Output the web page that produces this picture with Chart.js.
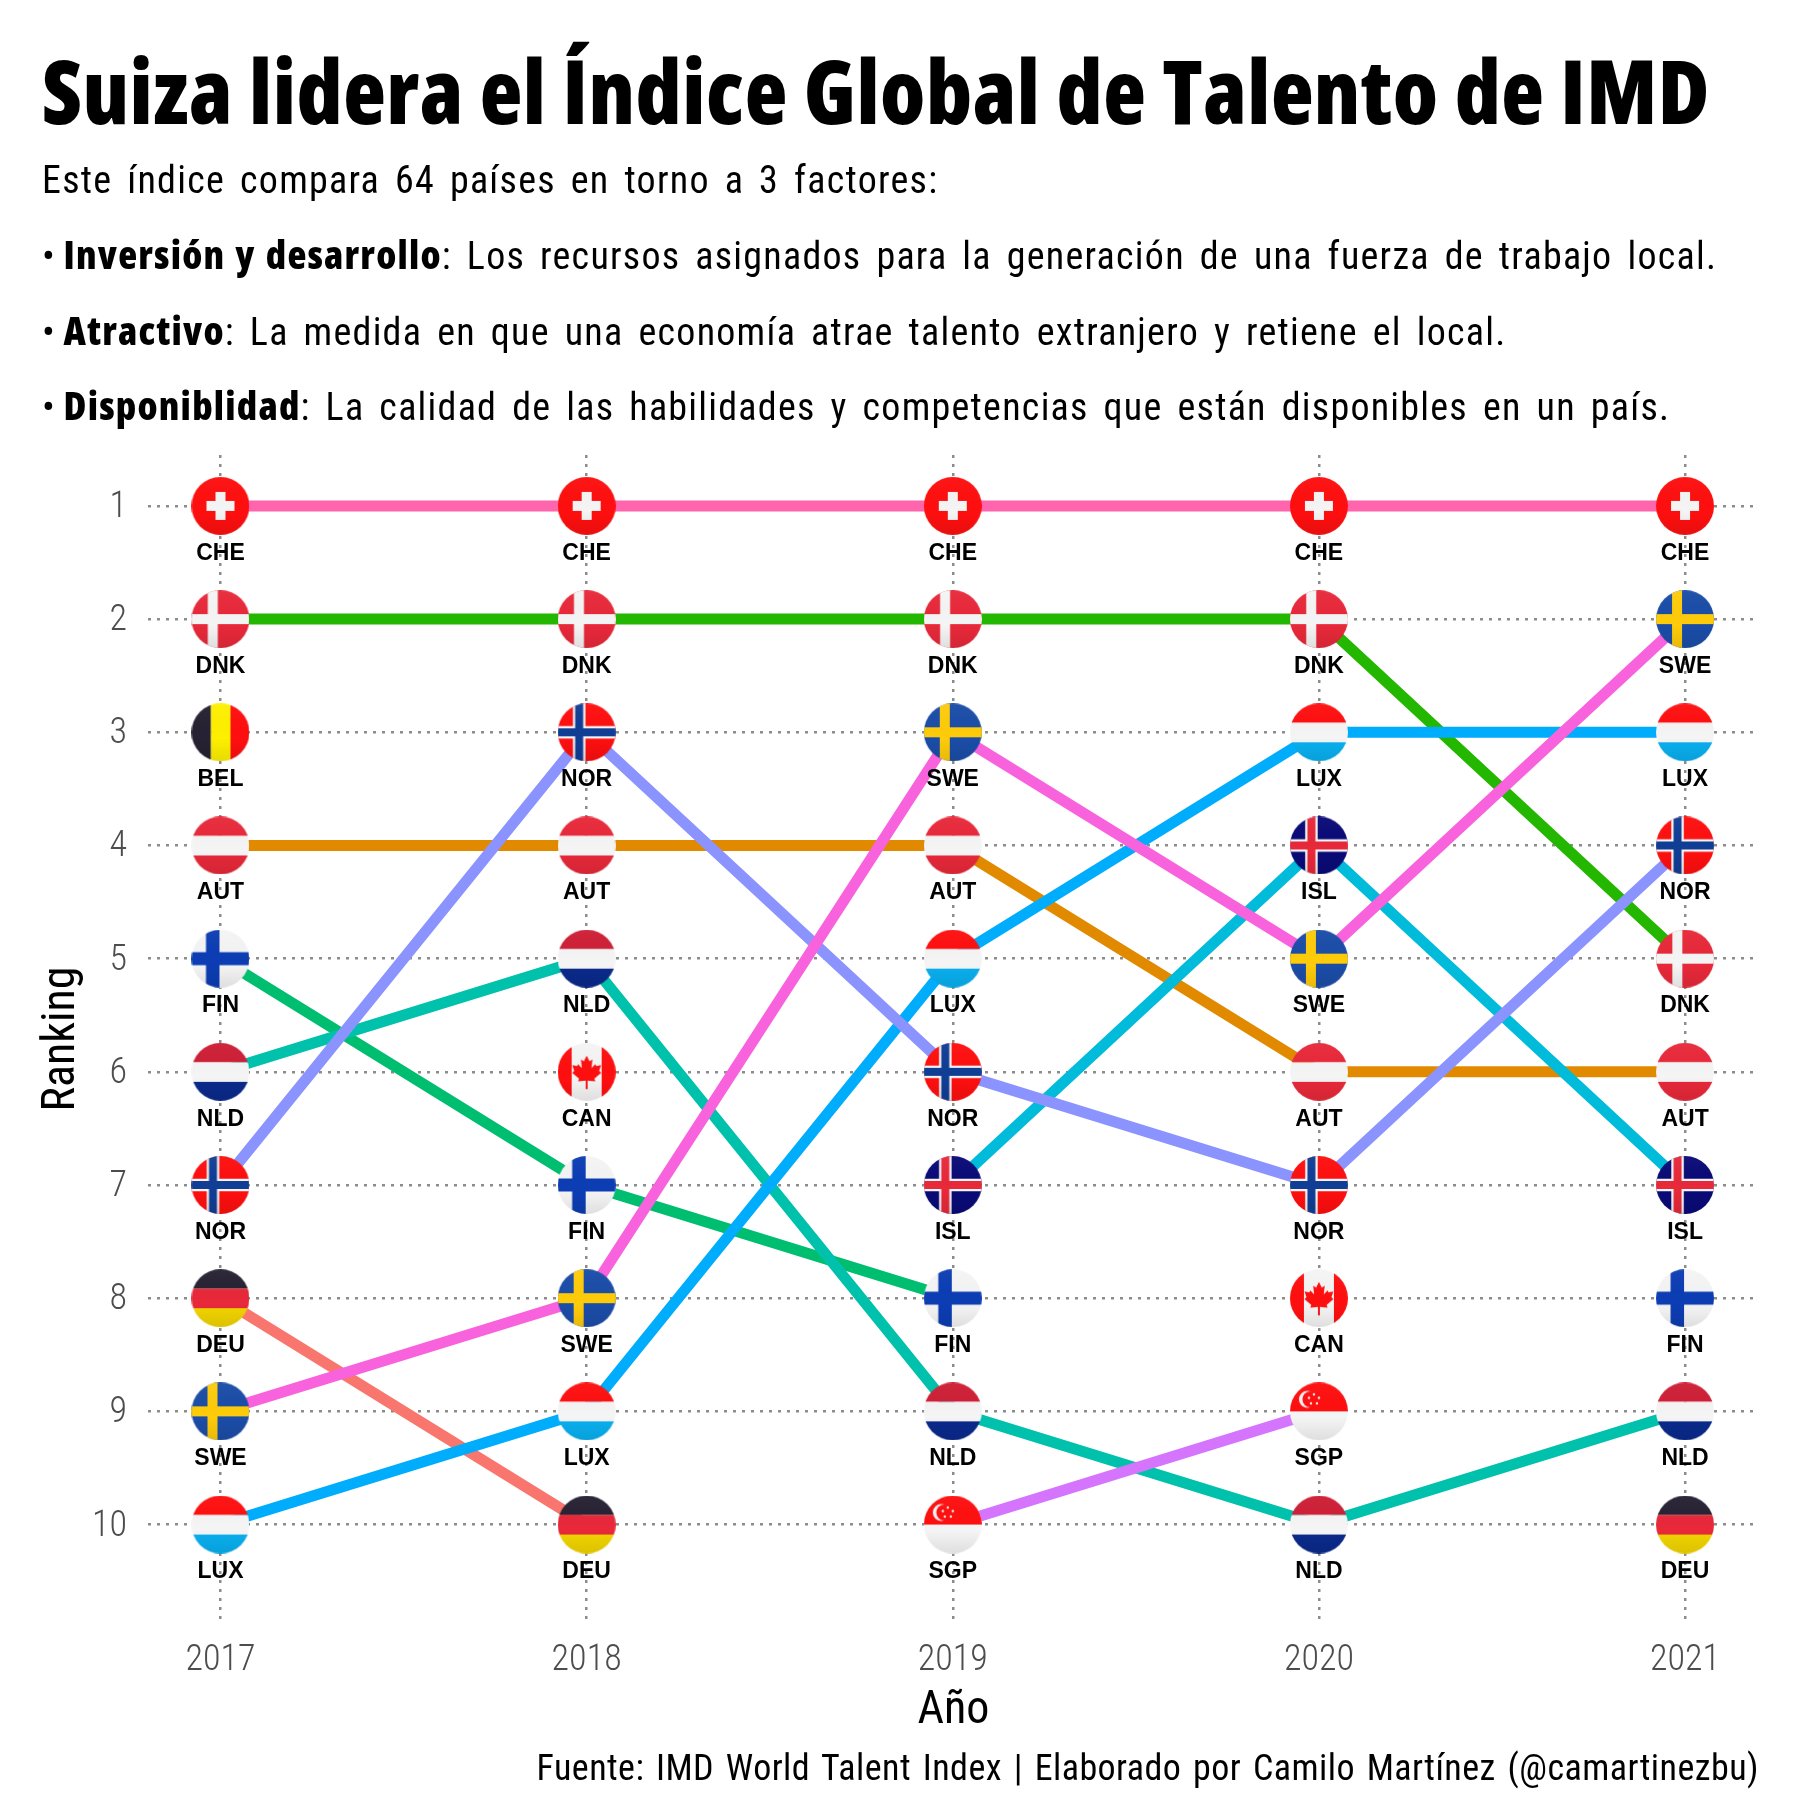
<!DOCTYPE html>
<html>
<head>
<meta charset="utf-8">
<script src="https://cdn.jsdelivr.net/npm/chart.js@4"></script>
<style>
  html, body { margin: 0; background: #fff; }
  #page { position: relative; width: 1800px; height: 1800px; overflow: hidden; font-family: "Roboto Condensed", sans-serif; color: #000; }
  canvas { position: absolute; left: 0; top: 0; }
  .txt { position: absolute; left: 42px; white-space: nowrap; font-size: 38px; line-height: 46px; letter-spacing: 1.25px; word-spacing: 5px; z-index: 2; }
  .txt b { font-family: "Open Sans", sans-serif; font-size: 39px; font-weight: 800; font-stretch: condensed; letter-spacing: 1.2px; word-spacing: 2px; }
  .txt i { font-style: normal; word-spacing: 0; letter-spacing: 0; }
  #title { top: 40px; font-family: "Open Sans", sans-serif; font-size: 88px; line-height: 100px; font-weight: 800; font-stretch: condensed; letter-spacing: 0.55px; word-spacing: 0; }
  #caption { left: auto; right: 41px; top: 1745px; font-size: 36px; letter-spacing: 0.45px; word-spacing: 3px; }
</style>
</head>
<body>
<div id="page">
  <canvas id="chart" width="1800" height="1800"></canvas>
  <div id="title" class="txt">Suiza lidera el Índice Global de Talento de IMD</div>
  <div class="txt" style="top:157px">Este índice compara 64 países en torno a 3 factores:</div>
  <div class="txt" style="top:231px"><i>• </i><b>Inversión y desarrollo</b>: Los recursos asignados para la generación de una fuerza de trabajo local.</div>
  <div class="txt" style="top:307px"><i>• </i><b>Atractivo</b>: La medida en que una economía atrae talento extranjero y retiene el local.</div>
  <div class="txt" style="top:382px"><i>• </i><b>Disponiblidad</b>: La calidad de las habilidades y competencias que están disponibles en un país.</div>
  <div id="caption" class="txt">Fuente: IMD World Talent Index | Elaborado por Camilo Martínez (@camartinezbu)</div>
</div>
<script>
const years = [2017, 2018, 2019, 2020, 2021];
const rankTicks = [1, 2, 3, 4, 5, 6, 7, 8, 9, 10];
// paises en el orden de dibujo (el ultimo queda encima)
const countries = ["DEU", "AUT", "BEL", "CAN", "DNK", "FIN", "NLD", "ISL", "LUX", "NOR", "SGP", "SWE", "CHE"];
const colors = ["#F8766D", "#E18A00", "#BE9C00", "#8CAB00", "#24B700", "#00BE70", "#00C1AB", "#00BBDA", "#00ACFC", "#8B93FF", "#D575FE", "#F962DD", "#FF65AC"];
const DEU = [8, 10, null, null, 10];
const AUT = [4, 4, 4, 6, 6];
const BEL = [3, null, null, null, null];
const CAN = [null, 6, null, 8, null];
const DNK = [2, 2, 2, 2, 5];
const FIN = [5, 7, 8, null, 8];
const NLD = [6, 5, 9, 10, 9];
const ISL = [null, null, 7, 4, 7];
const LUX = [10, 9, 5, 3, 3];
const NOR = [7, 3, 6, 7, 4];
const SGP = [null, null, 10, 9, null];
const SWE = [9, 8, 3, 5, 2];
const CHE = [1, 1, 1, 1, 1];
const ranks = { DEU, AUT, BEL, CAN, DNK, FIN, NLD, ISL, LUX, NOR, SGP, SWE, CHE };

const RED = "#FF0F0F", CRIMSON = "#E8293A", WHITE = "#F5F5F5", DARK = "#262233";

const hStripes = (g, a, b, c) => {
  g.fillStyle = a; g.fillRect(0, 0, 58, 19.5);
  g.fillStyle = b; g.fillRect(0, 19.5, 58, 19.5);
  g.fillStyle = c; g.fillRect(0, 39, 58, 19);
};
const cross = (g, color, w) => {
  g.fillStyle = color;
  g.fillRect(21.5 - w / 2, 0, w, 58);
  g.fillRect(0, 29 - w / 2, 58, w);
};
const maple = (g, cx, cy, s) => {
  const pts = [[0,-17],[3,-11],[6,-13],[5,-4],[9,-8],[10,-6],[15,-7],[13,-1],[15,1],[8,7],[9,10],[1,9],[1,18],[-1,18],[-1,9],[-9,10],[-8,7],[-15,1],[-13,-1],[-15,-7],[-10,-6],[-9,-8],[-5,-4],[-6,-13],[-3,-11]];
  g.beginPath();
  pts.forEach(p => g.lineTo(cx + p[0] * s, cy + p[1] * s));
  g.closePath();
  g.fill();
};
const flags = {
  CHE: g => { g.fillStyle = RED; g.fillRect(0, 0, 58, 58); g.fillStyle = WHITE; g.fillRect(24, 15, 10, 28); g.fillRect(15, 24, 28, 10); },
  DNK: g => { g.fillStyle = CRIMSON; g.fillRect(0, 0, 58, 58); g.fillStyle = WHITE; g.fillRect(16.3, 0, 10, 58); g.fillRect(0, 24, 58, 10); },
  BEL: g => { g.fillStyle = DARK; g.fillRect(0, 0, 19.5, 58); g.fillStyle = "#FFF000"; g.fillRect(19.5, 0, 19.5, 58); g.fillStyle = RED; g.fillRect(39, 0, 19, 58); },
  AUT: g => hStripes(g, CRIMSON, WHITE, CRIMSON),
  FIN: g => { g.fillStyle = WHITE; g.fillRect(0, 0, 58, 58); g.fillStyle = "#0C3DB4"; g.fillRect(14.5, 0, 13.5, 58); g.fillRect(0, 22.5, 58, 13); },
  NLD: g => hStripes(g, "#CE1F36", WHITE, "#0A2A8C"),
  NOR: g => { g.fillStyle = RED; g.fillRect(0, 0, 58, 58); cross(g, WHITE, 12.5); cross(g, "#103E96", 8); },
  DEU: g => hStripes(g, DARK, CRIMSON, "#F2D500"),
  SWE: g => { g.fillStyle = "#1B4DA8"; g.fillRect(0, 0, 58, 58); g.fillStyle = "#FFCC0A"; g.fillRect(16, 0, 10, 58); g.fillRect(0, 24, 58, 10); },
  LUX: g => hStripes(g, RED, WHITE, "#09B0F0"),
  ISL: g => { g.fillStyle = "#0A0A78"; g.fillRect(0, 0, 58, 58); cross(g, WHITE, 12.5); cross(g, CRIMSON, 8); },
  CAN: g => { g.fillStyle = WHITE; g.fillRect(0, 0, 58, 58); g.fillStyle = RED; g.fillRect(0, 0, 14, 58); g.fillRect(44, 0, 14, 58); maple(g, 29, 29, 0.96); },
  SGP: g => {
    g.fillStyle = WHITE; g.fillRect(0, 0, 58, 58);
    g.fillStyle = RED; g.fillRect(0, 0, 58, 29);
    g.fillStyle = WHITE; g.beginPath(); g.arc(17.5, 17, 8.5, 0, 7); g.fill();
    g.fillStyle = RED; g.beginPath(); g.arc(20.5, 17, 8, 0, 7); g.fill();
    g.fillStyle = WHITE;
    [[24, 12], [29, 15.5], [27, 21], [21, 21], [19, 15.5]].forEach(p => { g.beginPath(); g.arc(p[0], p[1], 1.2, 0, 7); g.fill(); });
  },
};
const makeFlag = (code) => {
  const c = document.createElement("canvas");
  c.width = 58; c.height = 58;
  const g = c.getContext("2d");
  g.beginPath(); g.arc(29, 29, 29, 0, Math.PI * 2); g.clip();
  flags[code](g);
  // brillo vertical de las banderas
  const shade = g.createLinearGradient(0, 0, 0, 58);
  shade.addColorStop(0, "rgba(255,255,255,0.04)");
  shade.addColorStop(0.6, "rgba(0,0,0,0)");
  shade.addColorStop(1, "rgba(0,0,0,0.09)");
  g.fillStyle = shade; g.fillRect(0, 0, 58, 58);
  return c;
};

const lineSets = countries.map((code, i) => ({
  label: code,
  data: ranks[code],
  borderColor: colors[i],
  backgroundColor: colors[i],
  borderWidth: 11,
  pointRadius: 0,
  borderCapStyle: "butt",
  tension: 0,
  spanGaps: false,
  order: 100 - i,
}));
const flagSets = countries.map((code) => ({
  label: code,
  data: ranks[code],
  showLine: false,
  pointStyle: makeFlag(code),
  pointRadius: 29,
  isFlag: true,
  order: 0,
}));

//codigo del pais debajo de cada bandera
const codeLabels = {
  id: "codeLabels",
  afterDatasetsDraw(chart) {
    const ctx = chart.ctx;
    ctx.save();
    ctx.font = "bold 23px 'Liberation Sans'";
    ctx.fillStyle = "#000";
    ctx.textAlign = "center";
    ctx.textBaseline = "middle";
    chart.data.datasets.forEach((ds, i) => {
      if (!ds.isFlag) return;
      chart.getDatasetMeta(i).data.forEach((pt, j) => {
        if (ds.data[j] !== null) ctx.fillText(ds.label, pt.x, pt.y + 47.5);
      });
    });
    ctx.restore();
  },
};

const axisFont = { family: "'Roboto Condensed'", size: 36, weight: "300" };
const nameFont = { family: "'Roboto Condensed'", size: 46, weight: "400" };
const gridStyle = { color: "#8c8c8c", lineWidth: 2.5, drawTicks: false };
new Chart(document.getElementById("chart"), {
  type: "line",
  plugins: [codeLabels],
  data: { labels: years, datasets: [...lineSets, ...flagSets] },
  options: {
    responsive: false,
    devicePixelRatio: 1,
    animation: false,
    layout: { padding: { top: 455, right: 41, left: 0, bottom: 0 } },
    plugins: { legend: { display: false }, tooltip: { enabled: false } },
    scales: {
      x: {
        type: "linear",
        min: 2016.802,
        max: 2021.202,
        afterBuildTicks: (s) => { s.ticks = years.map((v) => ({ value: v })); },
        afterFit: (s) => { s.height = 177; },
        grid: gridStyle,
        border: { display: false, dash: [3, 6] },
        ticks: { color: "#4d4d4d", padding: 16, font: axisFont, callback: (v) => String(v), maxRotation: 0, autoSkip: false },
        title: { display: true, text: "Año", color: "#000", font: nameFont, padding: { top: 0, bottom: 61 } },
      },
      y: {
        type: "linear",
        reverse: true,
        min: 0.55,
        max: 10.87,
        afterBuildTicks: (s) => { s.ticks = rankTicks.map((v) => ({ value: v })); },
        afterFit: (s) => { s.width = 148; },
        grid: gridStyle,
        border: { display: false, dash: [3, 6] },
        ticks: { color: "#4d4d4d", padding: 21, labelOffset: 2, font: axisFont, autoSkip: false },
        title: { display: true, text: "Ranking", color: "#000", font: nameFont, padding: { top: 35, bottom: 0 } },
      },
    },
  },
});
</script>
</body>
</html>
